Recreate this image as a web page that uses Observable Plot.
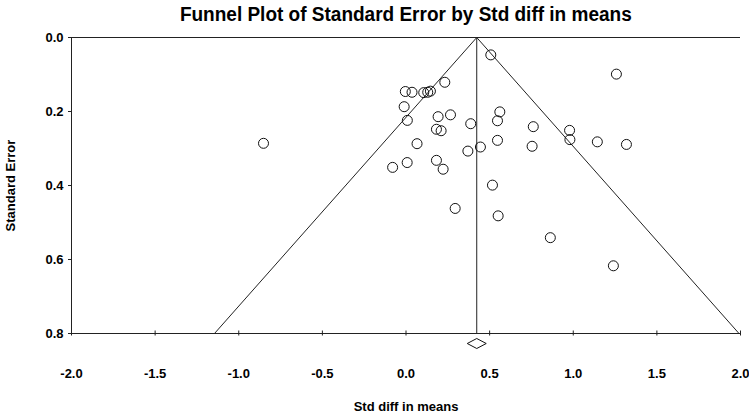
<!DOCTYPE html>
<html>
<head>
<meta charset="utf-8">
<script src="https://cdn.jsdelivr.net/npm/d3@7"></script>
<script src="https://cdn.jsdelivr.net/npm/@observablehq/plot@0.6"></script>
<style>
  html, body { margin: 0; padding: 0; background: #fff; }
  #title { width: 686px; margin-left: 63px; height: 28px; line-height: 28px; text-align: center;
           font-family: "Liberation Sans", Arial, sans-serif; font-weight: bold; font-size: 20px; color: #000; }
  #title span { display: inline-block; transform: scaleX(0.95); transform-origin: center; }
</style>
</head>
<body>
<div id="title"><span>Funnel Plot of Standard Error by Std diff in means</span></div>
<div id="chart"></div>
<script>
// Study effects (Std diff in means) and their standard errors
const effects = [-0.852, 0.232, -0.004, 0.036, 0.106, 0.130, 0.146, -0.011, 0.008, 0.192,
                 0.266, 0.387, 0.182, 0.210, 0.066, 0.370, 0.445, -0.080, 0.007, 0.182,
                 0.222, 0.517, 0.294, 0.551, 0.863, 1.240, 0.507, 1.258, 0.561, 0.547,
                 0.761, 0.978, 0.980, 1.144, 1.318, 0.547, 0.754];
const stdErrors = [0.286, 0.121, 0.146, 0.148, 0.149, 0.148, 0.145, 0.187, 0.224, 0.214,
                   0.209, 0.233, 0.248, 0.252, 0.287, 0.307, 0.296, 0.351, 0.338, 0.332,
                   0.356, 0.399, 0.462, 0.482, 0.541, 0.617, 0.047, 0.099, 0.201, 0.225,
                   0.241, 0.251, 0.276, 0.282, 0.289, 0.278, 0.294];
const combinedEffect = 0.423;
const zCrit = 1.96;
const seMax = 0.8;
const xTicks = [-2.0, -1.5, -1.0, -0.5, 0.0, 0.5, 1.0, 1.5, 2.0];
const yTicks = [0.0, 0.2, 0.4, 0.6, 0.8];

const studies = effects.map((e, i) => ({effect: e, se: stdErrors[i]}));
const funnel = [
  {x: combinedEffect - zCrit * seMax, y: seMax},
  {x: combinedEffect, y: 0},
  {x: combinedEffect + zCrit * seMax, y: seMax}
];

const wideDiamond = {
  draw(ctx) {
    ctx.moveTo(-9.5, 0); ctx.lineTo(0, -5); ctx.lineTo(9.5, 0); ctx.lineTo(0, 5); ctx.closePath();
  }
};

const lineColor = "#222";
const chart = Plot.plot({
  width: 749,
  height: 388,
  marginLeft: 71,
  marginRight: 9,
  marginTop: 9,
  marginBottom: 83,
  style: {fontFamily: "'Liberation Sans', Arial, sans-serif", fontSize: "13px", fontWeight: "bold", color: "#000", background: "#fff", overflow: "visible"},
  x: {domain: [-2, 2]},
  y: {domain: [0, seMax], reverse: true},
  marks: [
    Plot.ruleY([0, seMax], {stroke: lineColor, strokeWidth: 1}),
    Plot.ruleX([-2], {stroke: lineColor, strokeWidth: 1}),
    Plot.line(funnel, {x: "x", y: "y", stroke: lineColor, strokeWidth: 1, clip: true}),
    Plot.ruleX([combinedEffect], {y1: 0, y2: seMax, stroke: lineColor, strokeWidth: 1}),
    Plot.axisX({ticks: xTicks, tickFormat: d => d.toFixed(1), tickSize: 5, dy: -2.5, tickPadding: 33, label: null, stroke: lineColor, fontSize: 13}),
    Plot.axisY({ticks: yTicks, tickFormat: d => d.toFixed(1), tickSize: 3, tickPadding: 5, label: null, stroke: lineColor, fontSize: 13}),
    Plot.dot(studies, {x: "effect", y: "se", r: 5, stroke: "#111", strokeWidth: 1, fill: "none"}),
    Plot.dot([combinedEffect], {x: d => d, y: () => seMax, dy: 10, symbol: wideDiamond, stroke: "#111", strokeWidth: 1, fill: "white", clip: false}),
    Plot.text(["Std diff in means"], {frameAnchor: "bottom", dy: 73, text: d => d, fontSize: 13, fontWeight: "bold", lineAnchor: "middle"}),
    Plot.text(["Standard Error"], {frameAnchor: "left", dx: -61, rotate: -90, textAnchor: "middle", text: d => d, fontSize: 13, fontWeight: "bold"})
  ]
});
document.getElementById("chart").appendChild(chart);
</script>
</body>
</html>
